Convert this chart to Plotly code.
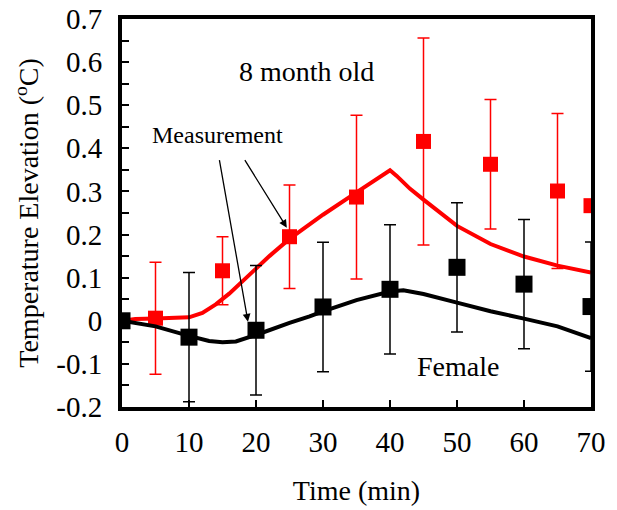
import plotly.graph_objects as go

# Measurement data (red series)
red_t = [5, 15, 25, 35, 45, 55, 65, 70]
red_y = [0.006, 0.116, 0.195, 0.287, 0.416, 0.363, 0.301, 0.267]
red_err = [0.13, 0.079, 0.12, 0.19, 0.24, 0.15, 0.18, 0.0]

# Measurement data (black series)
blk_t = [0, 10, 20, 30, 40, 50, 60, 70]
blk_y = [0.0, -0.038, -0.022, 0.032, 0.073, 0.124, 0.085, 0.033]
blk_err = [0.0, 0.15, 0.15, 0.15, 0.15, 0.15, 0.15, 0.15]

# Model curves
red_line_t = [0, 2, 5, 8, 10, 12, 14, 16, 18, 20, 22, 25, 28, 30, 35, 38, 40, 41, 43, 45, 48, 50, 55, 60, 65, 70]
red_line_y = [0.0, 0.004, 0.005, 0.006, 0.008, 0.018, 0.038, 0.063, 0.093, 0.123, 0.15, 0.19, 0.225, 0.246, 0.298, 0.328, 0.349, 0.336, 0.306, 0.281, 0.243, 0.22, 0.178, 0.149, 0.128, 0.112]

blk_line_t = [0, 5, 10, 13, 15, 17, 20, 23, 25, 28, 30, 35, 40, 42, 45, 50, 55, 60, 65, 70]
blk_line_y = [0.0, -0.013, -0.035, -0.047, -0.05, -0.048, -0.033, -0.015, -0.005, 0.01, 0.022, 0.048, 0.068, 0.071, 0.062, 0.042, 0.022, 0.005, -0.013, -0.04]

x_ticks = [0, 10, 20, 30, 40, 50, 60, 70]
y_ticks = [-0.2, -0.1, 0, 0.1, 0.2, 0.3, 0.4, 0.5, 0.6, 0.7]
y_ticktext = ["-0.2", "-0.1", "0", "0.1", "0.2", "0.3", "0.4", "0.5", "0.6", "0.7"]

FONT = "Liberation Serif, Times New Roman, serif"
RED = "#ff0000"

fig = go.Figure()
fig.add_trace(go.Scatter(x=red_line_t, y=red_line_y, mode="lines",
                         line=dict(color=RED, width=4), hoverinfo="skip"))
fig.add_trace(go.Scatter(x=red_t, y=red_y, mode="markers",
                         marker=dict(symbol="square", size=15, color=RED),
                         error_y=dict(type="data", array=red_err, color=RED, thickness=1.5, width=6)))
fig.add_trace(go.Scatter(x=blk_line_t, y=blk_line_y, mode="lines",
                         line=dict(color="black", width=4), hoverinfo="skip"))
fig.add_trace(go.Scatter(x=blk_t, y=blk_y, mode="markers",
                         marker=dict(symbol="square", size=17, color="black"),
                         error_y=dict(type="data", array=blk_err, color="black", thickness=1.5, width=6)))

fig.add_annotation(x=27.5, y=0.578, text="8 month old", showarrow=False,
                   font=dict(family=FONT, size=28, color="black"))
fig.add_annotation(x=50.1, y=-0.106, text="Female", showarrow=False,
                   font=dict(family=FONT, size=28, color="black"))
fig.add_annotation(x=14.3, y=0.43, text="Measurement", showarrow=False,
                   font=dict(family=FONT, size=24, color="black"))
fig.add_annotation(x=24.6, y=0.216, ax=18.2, ay=0.376, axref="x", ayref="y",
                   text="", showarrow=True, arrowhead=2, arrowsize=1.2, arrowwidth=1.3,
                   arrowcolor="black")
fig.add_annotation(x=18.8, y=-0.002, ax=14.5, ay=0.376, axref="x", ayref="y",
                   text="", showarrow=True, arrowhead=2, arrowsize=1.2, arrowwidth=1.3,
                   arrowcolor="black")

fig.update_layout(
    width=617, height=510,
    margin=dict(l=122, r=26, t=19, b=103),
    paper_bgcolor="white", plot_bgcolor="white",
    showlegend=False,
    font=dict(family=FONT, size=28, color="black"),
    xaxis=dict(range=[0, 70], tickvals=x_ticks, ticks="inside", ticklen=7, tickwidth=2,
               tickcolor="black", showline=True, linewidth=4, linecolor="black", mirror=True,
               showgrid=False, zeroline=False, ticklabelstandoff=6, automargin=False,
               ticklabeloverflow="allow",
               title=dict(text="Time (min)", font=dict(family=FONT, size=28), standoff=25),
               tickfont=dict(family=FONT, size=29)),
    yaxis=dict(range=[-0.2, 0.7], tickvals=y_ticks, ticktext=y_ticktext, ticks="inside",
               ticklen=7, tickwidth=2, tickcolor="black",
               minor=dict(dtick=0.05, ticks="inside", ticklen=7, tickwidth=2, tickcolor="black", showgrid=False),
               showline=True, linewidth=4, linecolor="black", mirror=True,
               showgrid=False, zeroline=False, ticklabelstandoff=10, automargin=False,
               ticklabeloverflow="allow",
               title=dict(text="Temperature Elevation (<sup>o</sup>C)", font=dict(family=FONT, size=28), standoff=10),
               tickfont=dict(family=FONT, size=29)),
)

fig.write_html("out.html", config={"displayModeBar": False},
               post_script="document.body.style.margin='0px';document.body.style.overflow='hidden';")
